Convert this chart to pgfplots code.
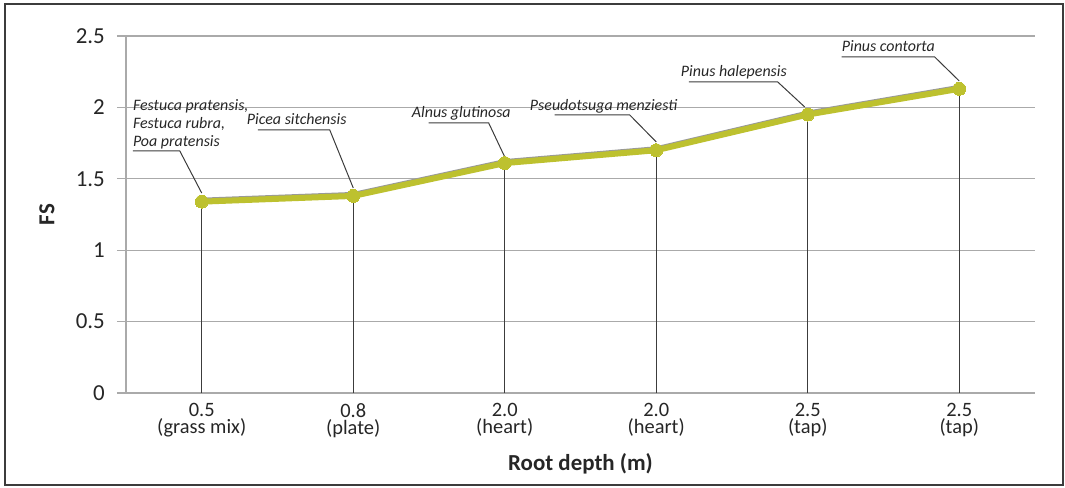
\documentclass[border=0pt]{standalone}
\usepackage{pgfplots}
\pgfplotsset{compat=1.18}
\usepackage{fontspec}
\setmainfont{Carlito}

\definecolor{linegreen}{RGB}{189,193,47}
\definecolor{gridgray}{RGB}{170,170,170}
\definecolor{txt}{RGB}{38,38,38}
\definecolor{leader}{RGB}{60,60,60}
\definecolor{framegray}{RGB}{60,60,60}

\newcommand{\lbl}[1]{\fontsize{16}{16}\selectfont\itshape #1}

\begin{document}
\begin{tikzpicture}
\begin{axis}[
    scale only axis,
    width=909bp, height=357bp,
    xmin=-0.5, xmax=5.5,
    ymin=0, ymax=2.5,
    clip=false,
    axis x line*=bottom,
    axis y line*=left,
    axis line style={gridgray, line width=1.3bp, -},
    xtick={0,1,2,3,4,5},
    xticklabels={0.5\\(grass mix), 0.8\\(plate), 2.0\\(heart), 2.0\\(heart), 2.5\\(tap), 2.5\\(tap)},
    xticklabel style={align=center, text=txt, font=\fontsize{20.5}{17.5}\selectfont, inner sep=0pt, yshift=-1bp},
    xtick style={draw=none},
    ytick={0,0.5,1,1.5,2,2.5},
    yticklabels={0,0.5,1,1.5,2,2.5},
    yticklabel style={text=txt, font=\fontsize{23}{23}\selectfont, inner sep=0pt, xshift=-12bp},
    ytick style={gridgray, line width=1.3bp},
    tick align=outside,
    major tick length=9bp,
    ymajorgrids,
    grid style={gridgray, line width=1.3bp},
    xlabel={\bfseries Root depth (m)},
    xlabel style={at={(axis description cs:0.5,0)}, anchor=base, yshift=-77bp, text=txt, font=\fontsize{23}{23}\selectfont},
    ylabel={\bfseries FS},
    ylabel style={at={(axis description cs:0,0.5)}, anchor=center, yshift=79bp, text=txt, font=\fontsize{23}{23}\selectfont},
]

% drop lines
\addplot[ycomb, leader, line width=1.4bp, no marks] coordinates {
    (0,1.34) (1,1.38) (2,1.61) (3,1.70) (4,1.95) (5,2.13)
};

% grey edge above the line
\addplot[gray!80, line width=2bp, no marks, transform canvas={yshift=3bp}] coordinates {
    (0,1.34) (1,1.38) (2,1.61) (3,1.70) (4,1.95) (5,2.13)
};

% FS
\addplot[linegreen, line width=6bp, mark=*, mark size=6.5bp, mark options={fill=linegreen, draw=linegreen, line width=0pt}] coordinates {
    (0,1.34) (1,1.38) (2,1.61) (3,1.70) (4,1.95) (5,2.13)
};

% callouts
\node[anchor=base west, inner sep=0pt, text=txt] at (axis cs:-0.455,1.981) {\lbl{Festuca pratensis,}};
\node[anchor=base west, inner sep=0pt, text=txt] at (axis cs:-0.455,1.853) {\lbl{Festuca rubra,}};
\node[anchor=base west, inner sep=0pt, text=txt] at (axis cs:-0.455,1.727) {\lbl{Poa pratensis}};
\draw[leader, line width=1bp] (axis cs:-0.455,1.695) -- (axis cs:-0.145,1.695) -- (axis cs:0,1.40);

\node[anchor=base west, inner sep=0pt, text=txt] at (axis cs:0.297,1.877) {\lbl{Picea sitchensis}};
\draw[leader, line width=1bp] (axis cs:0.370,1.842) -- (axis cs:0.845,1.842) -- (axis cs:1.0,1.436);

\node[anchor=base west, inner sep=0pt, text=txt] at (axis cs:1.386,1.926) {\lbl{Alnus glutinosa}};
\draw[leader, line width=1bp] (axis cs:1.498,1.891) -- (axis cs:1.894,1.891) -- (axis cs:2.0,1.653);

\node[anchor=base west, inner sep=0pt, text=txt] at (axis cs:2.165,1.975) {\lbl{Pseudotsuga menziesti}};
\draw[leader, line width=1bp] (axis cs:2.330,1.947) -- (axis cs:2.825,1.947) -- (axis cs:3.0,1.758);

\node[anchor=base west, inner sep=0pt, text=txt] at (axis cs:3.162,2.213) {\lbl{Pinus halepensis}};
\draw[leader, line width=1bp] (axis cs:3.215,2.178) -- (axis cs:3.802,2.178) -- (axis cs:3.98,2.003);

\node[anchor=base west, inner sep=0pt, text=txt] at (axis cs:4.224,2.388) {\lbl{Pinus contorta}};
\draw[leader, line width=1bp] (axis cs:4.224,2.353) -- (axis cs:4.838,2.353) -- (axis cs:5.0,2.185);

\end{axis}
\draw[framegray, line width=1.5bp] (-121bp,-92bp) rectangle (937bp,389bp);
\path (-126bp,-95bp) rectangle (939bp,393bp);
\end{tikzpicture}
\end{document}
